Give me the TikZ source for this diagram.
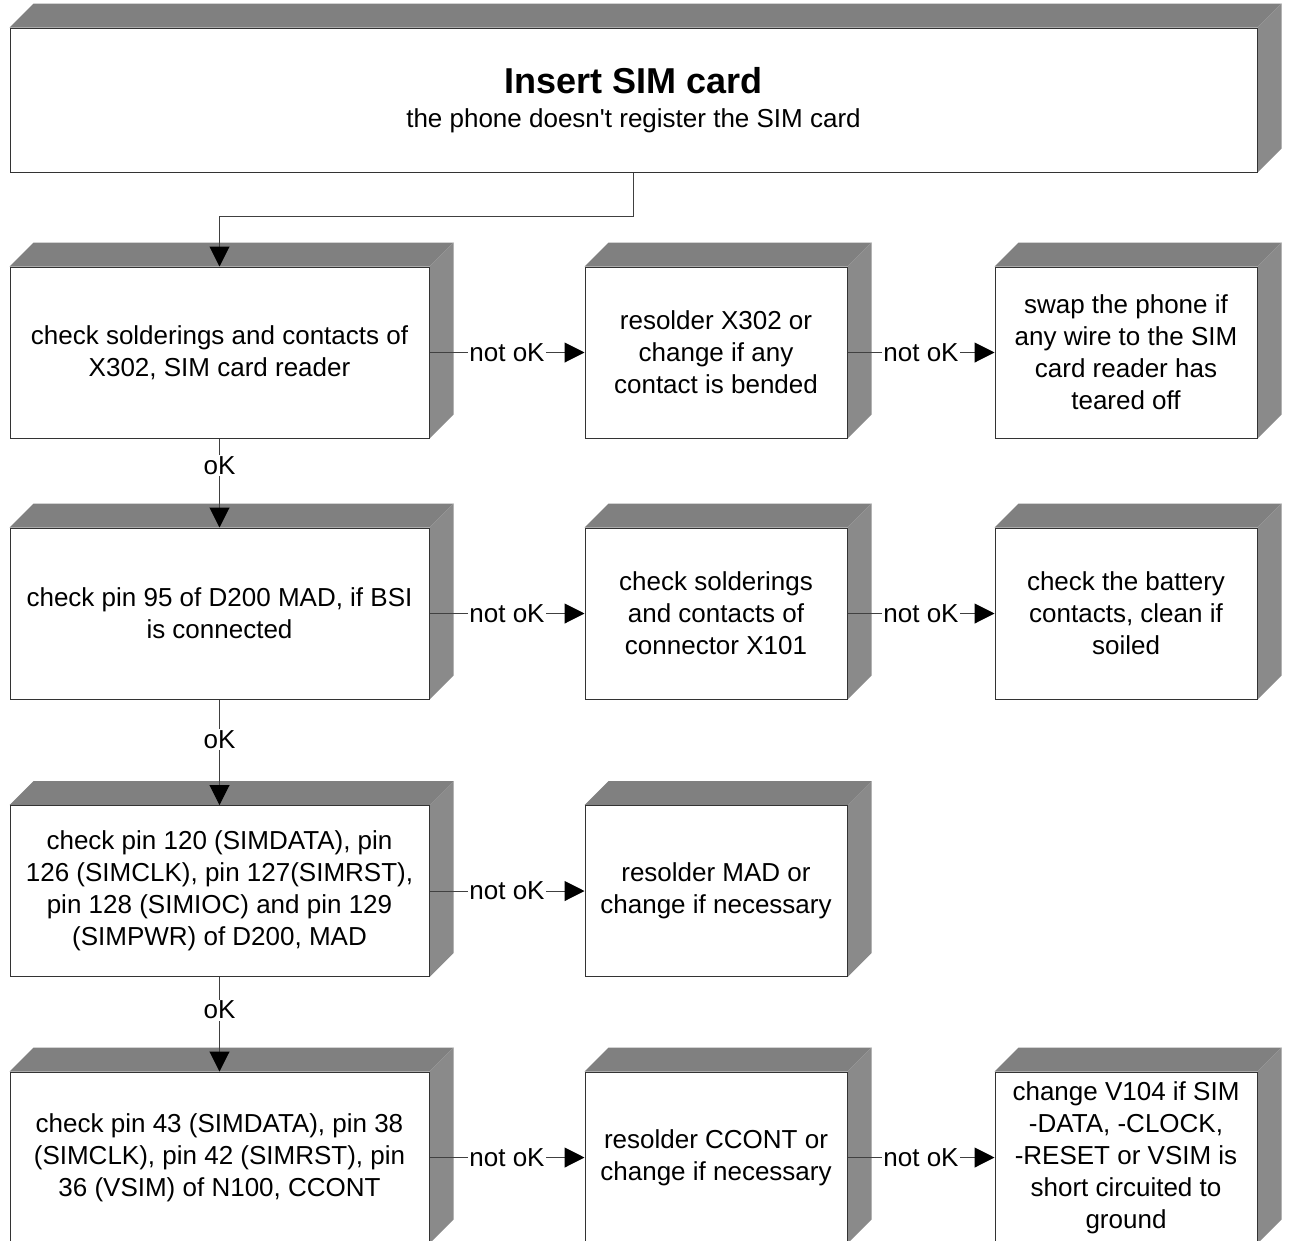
\documentclass[tikz,border=0pt]{standalone}
\usepackage{fontspec}
\setmainfont{Liberation Sans}
\usetikzlibrary{arrows.meta,backgrounds}

\begin{document}
\begin{tikzpicture}[x=1pt,y=-1pt,
        box/.style={draw=black!80,line width=1pt,fill=white,minimum height=171pt,inner sep=0pt,
            align=center,font=\fontsize{26}{32}\selectfont},
        small/.style={box,minimum width=262pt},
        wide/.style={box,minimum width=419pt},
        flow/.style={draw=black!75,line width=1pt,-{Triangle[length=20pt,width=20pt,color=black]}},
        tag/.style={fill=white,inner sep=1.5pt,font=\fontsize{26}{32}\selectfont},
        topface/.style={fill=black!50},
        sideface/.style={fill=black!46}]

    \useasboundingbox (0,0) rectangle (1290,1240);
    \clip (0,0) rectangle (1290,1240);

    % Start
    \node[box,minimum width=1247pt,minimum height=144pt] (top) at (633.5,100)
        {{\fontsize{36}{40}\selectfont\bfseries Insert SIM card}\\[2pt]
         the phone doesn\textquotesingle t register the SIM card};

    % Row 1
    \node[wide] (a1) at (219.5,352.5) {check solderings and contacts of\\X302, SIM card reader};
    \node[small] (b1) at (716,352.5) {resolder X302 or\\change if any\\contact is bended};
    \node[small] (c1) at (1126,352.5) {swap the phone if\\any wire to the SIM\\card reader has\\teared off};

    % Row 2
    \node[wide] (a2) at (219.5,613.5) {check pin 95 of D200 MAD, if BSI\\is connected};
    \node[small] (b2) at (716,613.5) {check solderings\\and contacts of\\connector X101};
    \node[small] (c2) at (1126,613.5) {check the battery\\contacts, clean if\\soiled};

    % Row 3
    \node[wide] (a3) at (219.5,891) {check pin 120 (SIMDATA), pin\\126 (SIMCLK), pin 127(SIMRST),\\pin 128 (SIMIOC) and pin 129\\(SIMPWR) of D200, MAD};
    \node[small] (b3) at (716,891) {resolder MAD or\\change if necessary};

    % Row 4 (cut off by the page)
    \node[wide] (a4) at (219.5,1157.5) {check pin 43 (SIMDATA), pin 38\\(SIMCLK), pin 42 (SIMRST), pin\\36 (VSIM) of N100, CCONT};
    \node[small] (b4) at (716,1157.5) {resolder CCONT or\\change if necessary};
    \node[small] (c4) at (1126,1157.5) {change V104 if SIM\\-DATA, -CLOCK,\\-RESET or VSIM is\\short circuited to\\ground};

    % 3D faces
    \begin{scope}[on background layer]
        \clip (0,0) rectangle (1290,1240);
        \foreach \n in {top,a1,b1,c1,a2,b2,c2,a3,b3,a4,b4,c4} {
            \fill[topface] (\n.north west) -- ++(24,-24) -- ([shift={(24,-24)}]\n.north east) -- (\n.north east) -- cycle;
            \fill[sideface] (\n.north east) -- ([shift={(24,-24)}]\n.north east) -- ([shift={(24,-24)}]\n.south east) -- (\n.south east) -- cycle;
        }
    \end{scope}

    % Edges
    \draw[flow] (top.south) -- ++(0,44) -| (a1.north);
    \draw[flow] (a1) -- node[tag]{not oK} (b1);
    \draw[flow] (b1) -- node[tag]{not oK} (c1);
    \draw[flow] (a1) -- node[tag,pos=0.3]{oK} (a2);
    \draw[flow] (a2) -- node[tag]{not oK} (b2);
    \draw[flow] (b2) -- node[tag]{not oK} (c2);
    \draw[flow] (a2) -- node[tag,pos=0.38]{oK} (a3);
    \draw[flow] (a3) -- node[tag]{not oK} (b3);
    \draw[flow] (a3) -- node[tag,pos=0.35]{oK} (a4);
    \draw[flow] (a4) -- node[tag]{not oK} (b4);
    \draw[flow] (b4) -- node[tag]{not oK} (c4);
\end{tikzpicture}
\end{document}
